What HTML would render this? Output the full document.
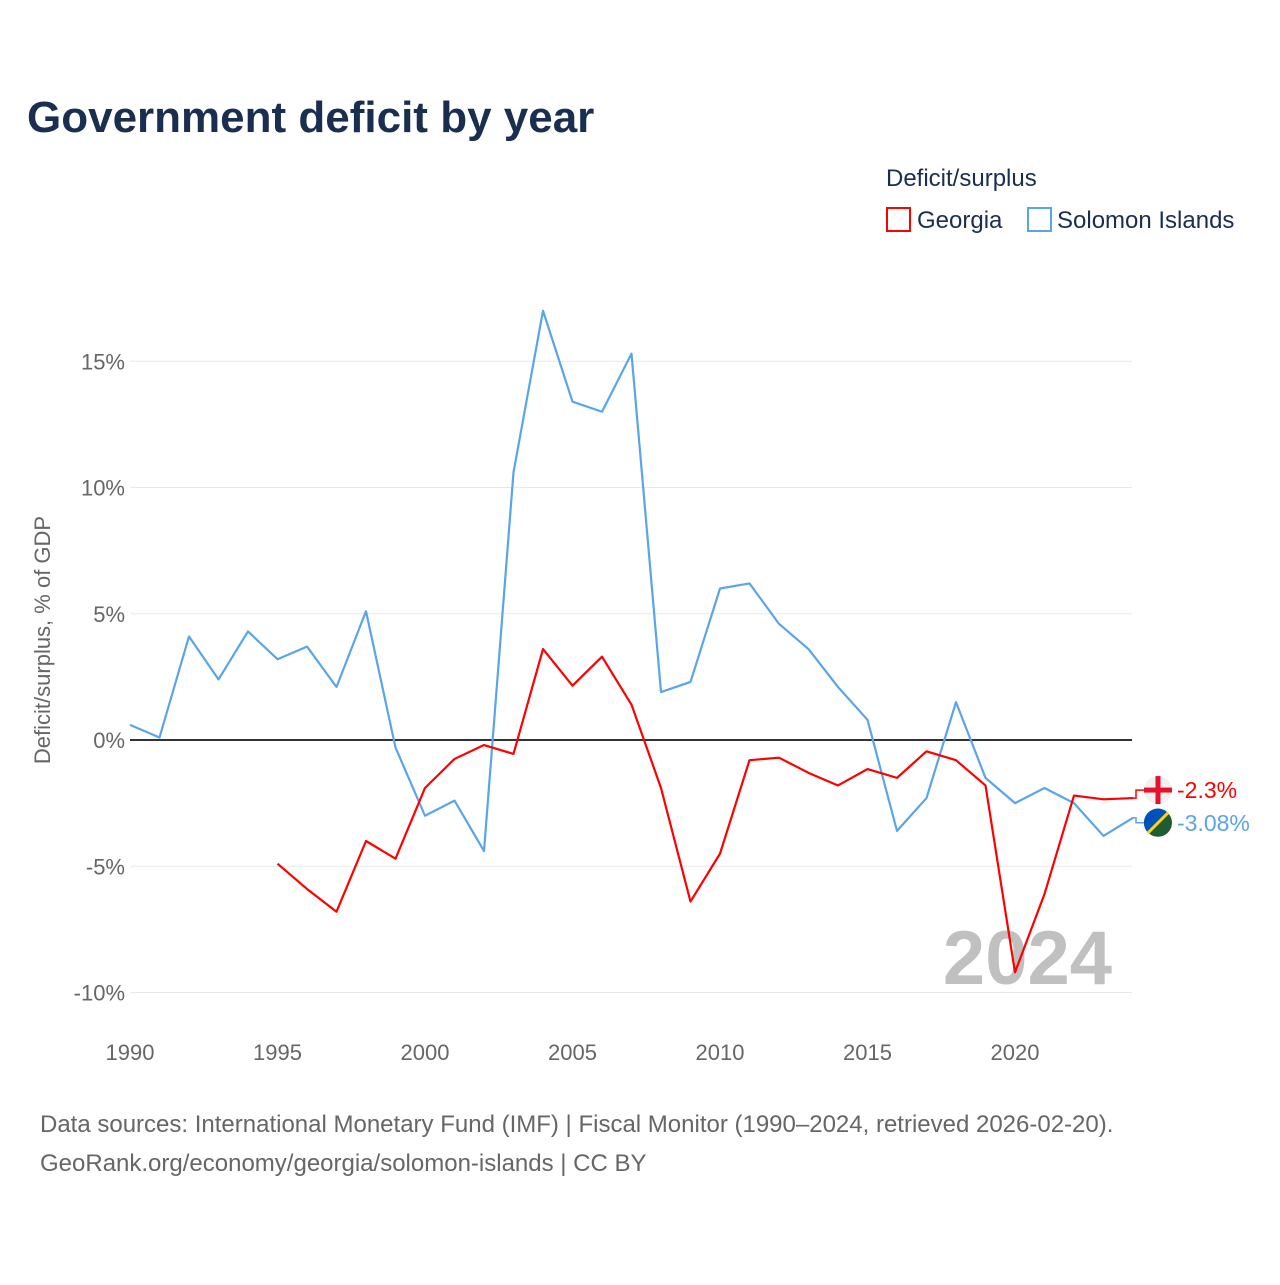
<!DOCTYPE html>
<html><head><meta charset="utf-8"><style>
body{margin:0;background:#fff;font-family:"Liberation Sans",sans-serif}
</style></head><body>
<svg width="1280" height="1280" viewBox="0 0 1280 1280" xmlns="http://www.w3.org/2000/svg" id="chart" font-family="Liberation Sans, sans-serif">
<rect width="1280" height="1280" fill="#fff"/>
<text x="27" y="132" font-size="44" font-weight="bold" fill="#1a2e4f">Government deficit by year</text>
<text x="886" y="186" font-size="24" fill="#1a2e4f">Deficit/surplus</text>
<g><rect x="887" y="208" width="23" height="23" fill="#fff" stroke="#ff0000" stroke-width="2"/><text x="917" y="228" font-size="24" fill="#1a2e4f">Georgia</text></g>
<g><rect x="1028" y="208" width="23" height="23" fill="#fff" stroke="#5aa5ea" stroke-width="2"/><text x="1057" y="228" font-size="24" fill="#1a2e4f">Solomon Islands</text></g>
<text transform="translate(50,640) rotate(-90)" text-anchor="middle" font-size="22" fill="#666">Deficit/surplus, % of GDP</text>
<g id="grid"></g><g id="axes"></g>
<text x="1112" y="984" text-anchor="end" font-size="76" font-weight="bold" fill="#c0c0c0">2024</text>
<g id="series"></g>
<text x="40" y="1132" font-size="24" fill="#666">Data sources: International Monetary Fund (IMF) | Fiscal Monitor (1990–2024, retrieved 2026-02-20).</text>
<text x="40" y="1171" font-size="24" fill="#666">GeoRank.org/economy/georgia/solomon-islands | CC BY</text>
</svg>
<script>
const years=[];for(let y=1990;y<=2024;y++)years.push(y);
const solomon=[0.6,0.1,4.1,2.4,4.3,3.2,3.7,2.1,5.1,-0.3,-3.0,-2.4,-4.4,10.6,17.0,13.4,13.0,15.3,1.9,2.3,6.0,6.2,4.6,3.6,2.1,0.8,-3.6,-2.3,1.5,-1.5,-2.5,-1.9,-2.5,-3.8,-3.08];
const georgiaYears=[];for(let y=1995;y<=2024;y++)georgiaYears.push(y);
const georgia=[-4.9,-5.9,-6.8,-4.0,-4.7,-1.9,-0.75,-0.2,-0.55,3.6,2.15,3.3,1.4,-1.9,-6.4,-4.5,-0.8,-0.7,-1.3,-1.8,-1.15,-1.5,-0.45,-0.8,-1.8,-9.2,-6.1,-2.2,-2.35,-2.3];
const yTicks=[-10,-5,0,5,10,15];
const xTicks=[1990,1995,2000,2005,2010,2015,2020];
const X=v=>130+(v-1990)*29.5;
const Y=v=>740-v*25.25;
const NS="http://www.w3.org/2000/svg";
function mk(t,a,p){const e=document.createElementNS(NS,t);for(const k in a)e.setAttribute(k,a[k]);p.appendChild(e);return e;}
const grid=document.getElementById('grid'),axes=document.getElementById('axes'),ser=document.getElementById('series');
yTicks.forEach(v=>{
 const l=mk('line',{x1:130,x2:1132,y1:Y(v),y2:Y(v),stroke:v===0?'#333':'#e8e8e8','stroke-width':v===0?2:1},grid);
 
 
 const t=mk('text',{x:125,y:Y(v)+8,'text-anchor':'end','font-size':22,fill:'#666'},axes);
 t.textContent=v+'%';
 
 
});
xTicks.forEach(v=>{
 const t=mk('text',{x:X(v),y:1060,'text-anchor':'middle','font-size':22,fill:'#666'},axes);
 t.textContent=v;
 
 
});
function line(xs,vs,c,name){
 const p=mk('polyline',{points:xs.map((x,i)=>X(x)+','+Y(vs[i])).join(' '),fill:'none',stroke:c,'stroke-width':2.2,'stroke-linejoin':'round'},ser);
 
 
}
line(years,solomon,'#5aa5ea','line-solomon-islands');
line(georgiaYears,georgia,'#ff0000','line-georgia');
const gEnd=Y(georgia[georgia.length-1]),sEnd=Y(solomon[solomon.length-1]);
const gl=gEnd-8,sl=sEnd+5;
const c1=mk('path',{d:`M${X(2024)} ${gEnd} H1136 V${gl} H1144`,fill:'none',stroke:'#ff0000','stroke-width':1.5},ser);


const c2=mk('path',{d:`M${X(2024)} ${sEnd} H1136 V${sl} H1144`,fill:'none',stroke:'#5aa5ea','stroke-width':1.5},ser);


const f1=mk('g',{},ser);


mk('circle',{cx:1158,cy:gl,r:14,fill:'#f0f0f0'},f1);
mk('rect',{x:1155.5,y:gl-14,width:5,height:28,fill:'#e8112d'},f1);
mk('rect',{x:1144,y:gl-2.5,width:28,height:5,fill:'#e8112d'},f1);
const f2=mk('g',{},ser);


mk('circle',{cx:1158,cy:sl,r:14,fill:'#215b33'},f2);
mk('path',{d:`M${1158-14} ${sl} A14 14 0 0 1 ${1158+10} ${sl-10} L${1158-10} ${sl+10} A14 14 0 0 1 ${1158-14} ${sl}Z`,fill:'#0051ba'},f2);
mk('line',{x1:1148,y1:sl+10,x2:1168,y2:sl-10,stroke:'#fcd116','stroke-width':3},f2);
const t1=mk('text',{x:1177,y:gl+8,'font-size':23,fill:'#ff0000'},ser);
t1.textContent=georgia[georgia.length-1]+'%';


const t2=mk('text',{x:1177,y:sl+8,'font-size':23,fill:'#5aa5ea'},ser);
t2.textContent=solomon[solomon.length-1]+'%';


</script>
</body></html>
